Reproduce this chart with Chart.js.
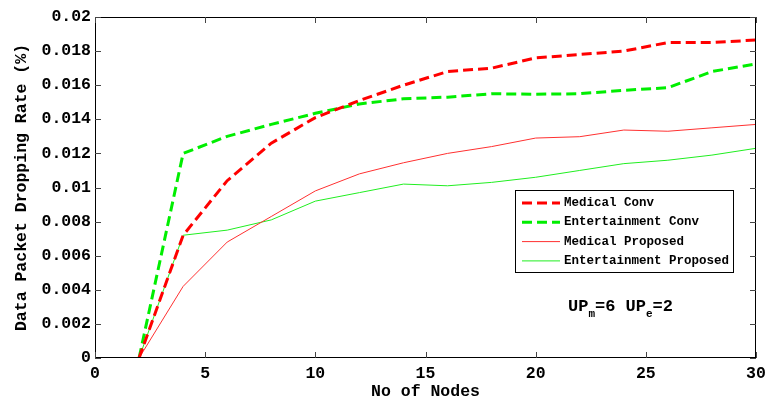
<!DOCTYPE html>
<html>
<head>
<meta charset="utf-8">
<script src="https://cdn.jsdelivr.net/npm/chart.js@4"></script>
<style>
  body { margin: 0; background: #fff; }
</style>
</head>
<body>
<canvas id="chart-drop-rate" width="767" height="402"></canvas>
<script>
const nodes = [2, 4, 6, 8, 10, 12, 14, 16, 18, 20, 22, 24, 26, 28, 30];
const medicalConv = [0, 0.0072, 0.0104, 0.0126, 0.0141, 0.0151, 0.0160, 0.0168, 0.0170, 0.0176, 0.0178, 0.0180, 0.0185, 0.0185, 0.01865];
const entertainmentConv = [0, 0.0120, 0.0130, 0.0137, 0.01435, 0.0149, 0.0152, 0.0153, 0.0155, 0.01547, 0.0155, 0.0157, 0.01585, 0.0168, 0.01725];
const medicalProposed = [0, 0.0042, 0.0068, 0.0083, 0.0098, 0.0108, 0.01145, 0.0120, 0.0124, 0.0129, 0.01298, 0.01337, 0.0133, 0.0135, 0.0137];
const entertainmentProposed = [0, 0.0072, 0.0075, 0.0081, 0.0092, 0.0097, 0.0102, 0.0101, 0.0103, 0.0106, 0.0110, 0.0114, 0.0116, 0.0119, 0.0123];
const seriesLabels = ['Medical Conv', 'Entertainment Conv', 'Medical Proposed', 'Entertainment Proposed'];

const mono = '"Liberation Mono", "Courier New", monospace';
const pts = arr => nodes.map((x, i) => ({ x: x, y: arr[i] }));

// box, inward ticks, legend and note (matlab style)
const matlabFrame = {
  id: 'matlabFrame',
  afterDraw(chart) {
    const { ctx, chartArea: a, scales: { x, y } } = chart;
    ctx.save();
    ctx.strokeStyle = '#000';
    ctx.lineWidth = 1;
    ctx.strokeRect(a.left + 0.5, a.top + 0.5, a.right - a.left - 1, a.bottom - a.top - 1);
    ctx.strokeStyle = '#444';
    x.ticks.forEach(t => {
      const px = Math.round(x.getPixelForValue(t.value)) + 0.5;
      ctx.beginPath();
      ctx.moveTo(px, a.bottom); ctx.lineTo(px, a.bottom - 6);
      ctx.moveTo(px, a.top); ctx.lineTo(px, a.top + 6);
      ctx.stroke();
    });
    y.ticks.forEach(t => {
      const py = Math.round(y.getPixelForValue(t.value)) + 0.5;
      ctx.beginPath();
      ctx.moveTo(a.left, py); ctx.lineTo(a.left + 6, py);
      ctx.moveTo(a.right, py); ctx.lineTo(a.right - 6, py);
      ctx.stroke();
    });

    // legend
    const lx = 515, ly = 190, lw = 218, lh = 82;
    ctx.fillStyle = '#fff';
    ctx.fillRect(lx, ly, lw, lh);
    ctx.strokeStyle = '#000';
    ctx.lineWidth = 1;
    ctx.strokeRect(lx + 0.5, ly + 0.5, lw, lh);
    ctx.font = 'bold 12.5px ' + mono;
    ctx.textBaseline = 'middle';
    chart.data.datasets.forEach((ds, i) => {
      const yy = ly + 13 + i * 19.3;
      ctx.strokeStyle = ds.borderColor;
      ctx.lineWidth = ds.borderWidth;
      ctx.setLineDash(ds.borderDash || []);
      ctx.beginPath();
      ctx.moveTo(lx + 7, yy); ctx.lineTo(lx + 45, yy);
      ctx.stroke();
      ctx.setLineDash([]);
      ctx.fillStyle = '#000';
      ctx.fillText(ds.label, lx + 49, yy);
    });

    // UPm=6 UPe=2
    const big = 'bold 17px ' + mono, small = 'bold 11px ' + mono;
    let cx = 568;
    const base = 311;
    ctx.textBaseline = 'alphabetic';
    [['UP', big, 0], ['m', small, 6], ['=6 UP', big, 0], ['e', small, 6], ['=2', big, 0]].forEach(([s, f, dy]) => {
      ctx.font = f;
      ctx.fillText(s, cx, base + dy);
      cx += ctx.measureText(s).width;
    });
    ctx.restore();
  }
};

new Chart(
  document.getElementById('chart-drop-rate'),
  {
    type: 'line',
    data: {
      datasets: [
        {
          label: seriesLabels[0],
          data: pts(medicalConv),
          borderColor: '#ff0000',
          borderWidth: 3,
          borderDash: [10, 5]
        },
        {
          label: seriesLabels[1],
          data: pts(entertainmentConv),
          borderColor: '#00ee00',
          borderWidth: 3,
          borderDash: [10, 5]
        },
        {
          label: seriesLabels[2],
          data: pts(medicalProposed),
          borderColor: '#ff3030',
          borderWidth: 1
        },
        {
          label: seriesLabels[3],
          data: pts(entertainmentProposed),
          borderColor: '#20ee20',
          borderWidth: 1
        }
      ]
    },
    options: {
      responsive: false,
      animation: false,
      elements: { point: { radius: 0 }, line: { tension: 0 } },
      layout: { padding: { top: 17, right: 11, left: 0, bottom: 0 } },
      plugins: { legend: { display: false }, tooltip: { enabled: false } },
      scales: {
        x: {
          type: 'linear',
          min: 0,
          max: 30,
          afterFit: s => { s.height = 44; s.paddingLeft = 0; s.paddingRight = 0; },
          ticks: { stepSize: 5, padding: 6, color: '#000', font: { family: mono, size: 16.5, weight: 'bold' } },
          grid: { display: false, drawTicks: false },
          border: { display: false },
          title: { display: true, text: 'No of Nodes', color: '#000', padding: { top: 0, bottom: 0 }, font: { family: mono, size: 16.5, weight: 'bold' } }
        },
        y: {
          min: 0,
          max: 0.02,
          afterFit: s => { s.width = 95; s.paddingTop = 0; s.paddingBottom = 0; },
          ticks: {
            stepSize: 0.002,
            padding: 4,
            color: '#000',
            font: { family: mono, size: 16.5, weight: 'bold' },
            callback: v => String(Number(v.toFixed(3)))
          },
          grid: { display: false, drawTicks: false },
          border: { display: false },
          title: { display: true, text: 'Data Packet Dropping Rate (%)', color: '#000', padding: { top: 12, bottom: 0 }, font: { family: mono, size: 16.5, weight: 'bold' } }
        }
      }
    },
    plugins: [matlabFrame]
  }
);
</script>
</body>
</html>
